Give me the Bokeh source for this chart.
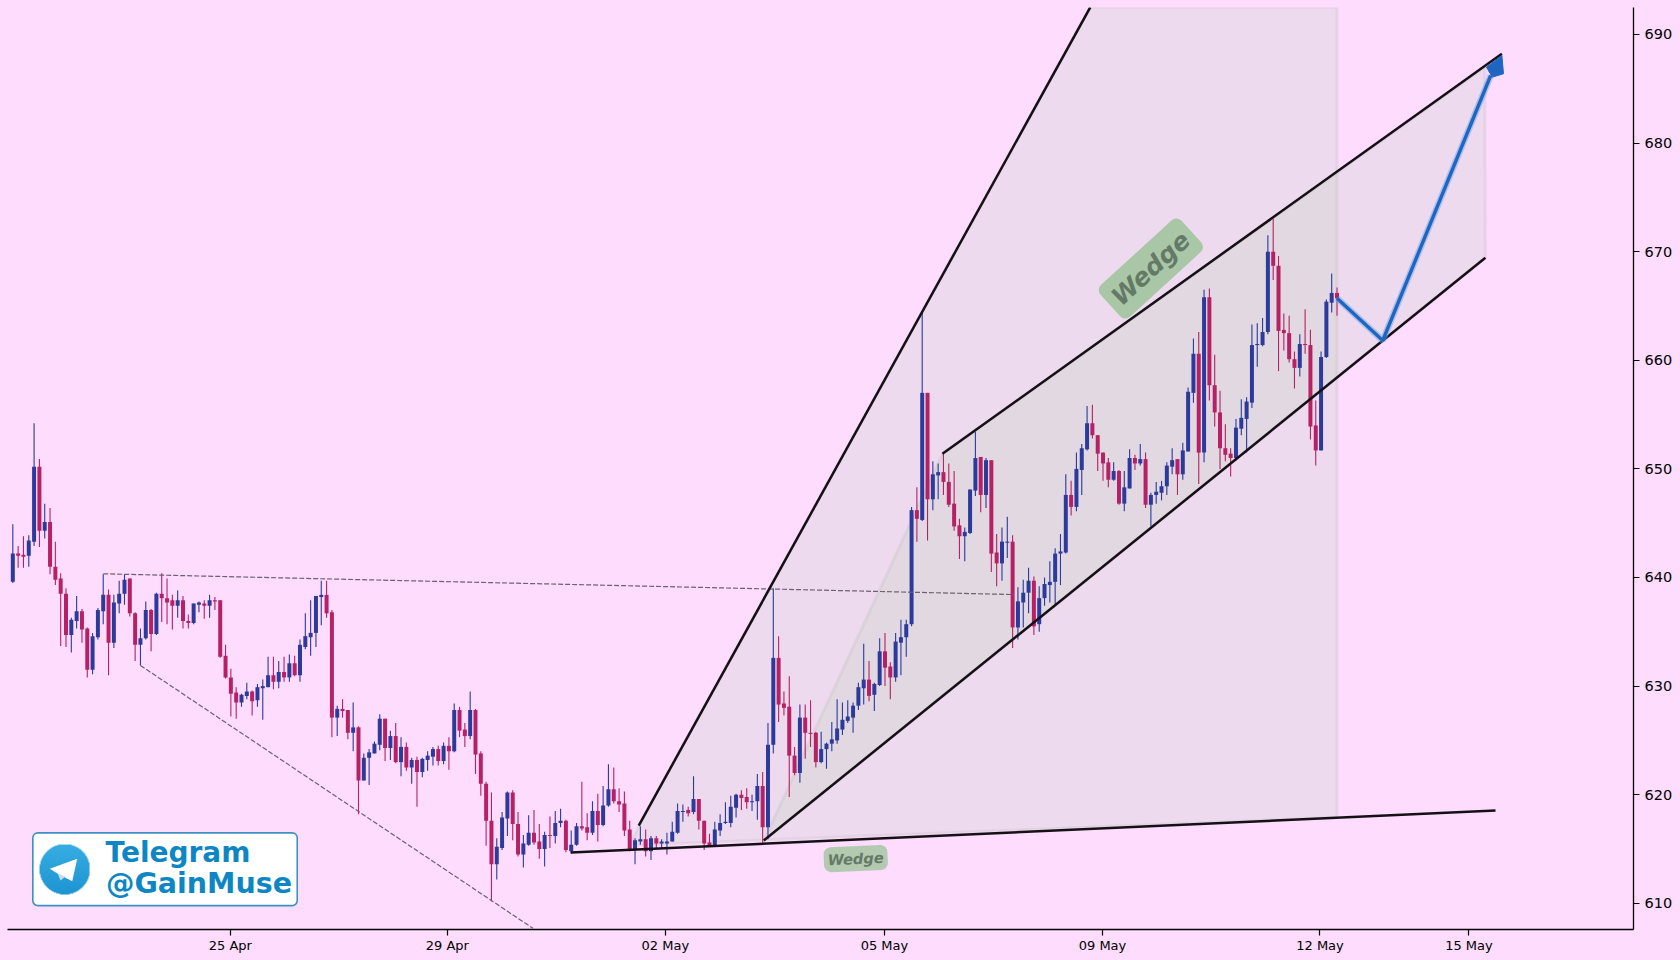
import numpy as np
from bokeh.embed import file_html
from bokeh.models import ColumnDataSource, FixedTicker, GlobalInlineStyleSheet, Label, Range1d
from bokeh.plotting import figure
from bokeh.resources import INLINE

# hourly candles
opens = [
    639.6, 642.2, 642.1, 642.0, 643.3, 650.2, 644.3, 645.1, 641.0, 639.9,
    638.5, 634.7, 636.0, 636.9, 635.3, 631.5, 634.5, 636.9, 638.4, 634.0,
    637.6, 638.5, 639.9, 636.7, 633.8, 634.4, 637.0, 634.8, 638.5, 638.1,
    637.9, 637.4, 637.9, 636.0, 635.8, 637.5, 637.6, 637.4, 637.9, 637.9,
    632.8, 630.8, 629.4, 628.5, 629.1, 629.5, 628.7, 629.8, 629.9, 631.0,
    630.4, 631.3, 630.8, 632.1, 631.0, 633.6, 634.5, 634.9, 638.2, 638.4,
    636.8, 627.1, 627.9, 627.8, 625.7, 626.2, 621.3, 623.4, 623.8, 624.6,
    627.0, 624.3, 625.4, 623.0, 624.4, 622.5, 623.2, 622.1, 623.2, 623.5,
    624.2, 623.1, 624.5, 624.0, 627.8, 626.0, 625.4, 627.8, 623.8, 621.0,
    617.6, 613.6, 615.1, 617.8, 620.2, 617.3, 614.5, 615.4, 616.5, 615.7,
    615.0, 616.3, 616.2, 617.4, 617.6, 614.8, 615.4, 617.1, 617.0, 616.5,
    618.5, 617.2, 619.0, 620.5, 619.4, 619.2, 616.8, 615.0, 615.7, 615.9,
    614.8, 616.0, 615.5, 615.5, 615.7, 616.5, 618.4, 618.6, 618.4, 619.6,
    617.6, 615.6, 615.3, 616.7, 617.4, 617.4, 618.8, 620.0, 619.8, 619.3,
    619.4, 620.8, 617.0, 624.6, 632.6, 628.4, 628.1, 623.6, 622.0, 627.1,
    625.7, 625.7, 623.0, 624.2, 624.7, 625.0, 626.0, 626.8, 627.1, 628.2,
    629.8, 630.6, 629.2, 630.1, 633.2, 631.8, 630.8, 634.0, 634.5, 635.7,
    646.2, 645.3, 657.0, 647.2, 649.4, 649.7, 648.8, 646.8, 644.8, 643.8,
    644.1, 648.0, 651.1, 647.6, 650.8, 642.3, 641.3, 643.2, 643.3, 635.4,
    637.7, 638.6, 639.7, 635.7, 638.1, 639.3, 639.6, 642.2, 642.3, 647.6,
    646.5, 649.9, 651.8, 654.2, 653.1, 651.5, 650.6, 649.0, 649.8, 646.8,
    648.2, 651.0, 650.5, 650.9, 646.7, 647.6, 647.8, 648.4, 650.2, 650.9,
    649.5, 651.6, 657.0, 660.6, 651.5, 665.8, 657.7, 655.2, 651.9, 651.4,
    651.0, 653.7, 654.6, 656.1, 661.4, 661.4, 662.6, 670.0, 668.7, 662.8,
    662.5, 660.1, 659.3, 661.5, 661.4, 654.0, 651.7, 660.3, 665.3, 666.2,
]
closes = [
    642.2, 642.0, 641.9, 643.4, 650.2, 644.3, 645.1, 641.0, 639.8, 638.5,
    634.7, 636.1, 636.9, 635.2, 631.5, 634.6, 637.0, 638.4, 634.0, 637.7,
    638.5, 639.8, 636.7, 633.8, 634.4, 637.0, 634.8, 638.5, 638.1, 637.7,
    637.4, 637.9, 636.0, 635.8, 637.6, 637.7, 637.4, 637.9, 637.8, 632.7,
    630.8, 629.3, 628.5, 629.2, 629.5, 628.6, 629.9, 630.0, 631.0, 630.4,
    631.3, 630.8, 632.1, 631.0, 633.8, 634.6, 634.9, 638.3, 638.4, 636.7,
    627.1, 627.9, 627.7, 625.7, 626.2, 621.3, 623.4, 623.9, 624.7, 627.0,
    624.3, 625.4, 623.0, 624.4, 622.5, 623.2, 622.1, 623.3, 623.6, 624.2,
    623.1, 624.5, 624.0, 627.8, 625.9, 625.4, 627.8, 623.7, 621.0, 617.6,
    613.6, 615.2, 617.9, 620.2, 617.3, 614.5, 615.5, 616.5, 615.6, 615.0,
    616.3, 616.2, 617.4, 617.6, 614.9, 615.4, 617.1, 616.9, 616.5, 618.5,
    617.2, 619.0, 620.5, 619.4, 619.1, 616.7, 614.9, 615.8, 615.9, 614.8,
    616.0, 615.5, 615.7, 615.7, 616.6, 618.5, 618.5, 618.3, 619.6, 617.6,
    615.5, 615.3, 616.8, 617.4, 617.5, 618.9, 620.0, 619.7, 619.3, 619.4,
    620.8, 617.0, 624.6, 632.6, 628.3, 628.0, 623.6, 622.0, 627.1, 625.7,
    625.6, 623.0, 624.2, 624.7, 625.1, 626.1, 626.9, 627.2, 628.2, 629.9,
    630.6, 629.1, 630.2, 633.2, 631.7, 630.8, 634.1, 634.5, 635.7, 646.2,
    645.4, 657.0, 647.2, 649.5, 649.7, 648.8, 646.7, 644.7, 643.8, 644.2,
    648.1, 651.0, 647.6, 650.8, 642.2, 641.3, 643.3, 643.3, 635.4, 637.8,
    638.6, 639.7, 635.5, 638.1, 639.4, 639.6, 642.2, 642.4, 647.6, 646.5,
    650.0, 651.9, 654.2, 653.1, 651.4, 650.5, 649.0, 649.8, 646.8, 648.3,
    651.0, 650.5, 650.9, 646.7, 647.6, 647.9, 648.4, 650.3, 650.8, 649.5,
    651.7, 657.1, 660.6, 651.5, 665.8, 657.7, 655.2, 651.9, 651.3, 651.0,
    653.8, 654.7, 656.2, 661.4, 661.5, 662.6, 670.0, 668.7, 662.7, 662.5,
    660.1, 659.3, 661.5, 661.4, 653.9, 651.7, 660.3, 665.4, 666.2, 665.7,
]
highs = [
    644.9, 642.9, 643.8, 643.9, 654.2, 650.9, 646.8, 646.4, 643.3, 640.4,
    639.0, 636.3, 638.3, 637.1, 635.4, 634.9, 637.2, 640.3, 638.9, 638.4,
    639.7, 640.3, 639.9, 636.8, 635.3, 637.8, 637.1, 638.6, 640.4, 639.9,
    638.4, 638.8, 638.3, 636.6, 637.6, 637.8, 637.9, 638.4, 638.2, 637.9,
    633.8, 631.6, 629.9, 629.3, 630.3, 629.6, 630.2, 630.6, 632.7, 632.7,
    632.3, 632.7, 632.9, 632.8, 634.3, 636.7, 637.9, 638.3, 639.7, 639.7,
    637.0, 628.2, 628.8, 627.8, 628.5, 626.3, 623.8, 624.2, 624.9, 627.4,
    627.0, 625.9, 626.6, 625.3, 624.8, 623.4, 623.5, 623.4, 624.0, 624.4,
    624.5, 624.8, 625.3, 628.4, 628.1, 626.6, 629.5, 627.9, 624.0, 621.2,
    620.2, 616.0, 618.4, 620.3, 620.4, 618.4, 616.3, 618.1, 618.6, 617.3,
    616.6, 618.0, 618.5, 618.7, 617.7, 616.7, 617.4, 621.2, 618.3, 619.4,
    620.1, 620.8, 622.8, 622.5, 620.6, 620.3, 617.6, 616.0, 617.1, 616.8,
    616.2, 616.2, 615.9, 616.5, 617.5, 619.2, 619.1, 618.9, 621.7, 619.6,
    617.6, 616.4, 617.5, 618.2, 619.3, 619.9, 620.1, 620.4, 620.6, 620.0,
    621.9, 622.1, 626.6, 639.0, 634.6, 629.5, 630.9, 624.4, 628.3, 628.3,
    628.7, 625.8, 625.8, 624.8, 626.7, 628.8, 628.5, 628.7, 628.5, 630.3,
    633.9, 632.3, 630.3, 634.4, 634.9, 632.2, 634.9, 636.1, 636.1, 646.5,
    648.3, 664.4, 657.0, 650.7, 650.5, 651.4, 650.5, 649.8, 645.4, 644.6,
    648.1, 653.4, 651.1, 651.0, 650.8, 644.0, 644.6, 645.6, 643.9, 639.1,
    639.8, 640.9, 640.1, 639.2, 640.0, 641.5, 642.7, 644.0, 649.5, 648.9,
    651.5, 652.3, 655.8, 655.9, 653.1, 651.5, 651.0, 650.6, 649.9, 649.8,
    651.8, 651.3, 652.3, 651.5, 647.8, 648.8, 648.9, 650.6, 651.9, 650.9,
    652.4, 657.5, 662.0, 662.6, 666.5, 666.6, 660.5, 657.2, 654.1, 651.9,
    654.6, 656.4, 656.6, 663.3, 663.4, 663.9, 671.5, 673.0, 669.6, 664.3,
    664.1, 660.8, 662.4, 664.7, 662.8, 656.3, 660.8, 665.6, 668.0, 666.7,
]
lows = [
    639.5, 640.9, 640.9, 641.0, 642.9, 642.8, 643.6, 640.3, 639.3, 633.7,
    633.6, 633.1, 635.3, 634.0, 630.8, 631.1, 634.3, 635.7, 631.0, 633.5,
    636.7, 637.5, 636.4, 632.3, 631.9, 634.3, 633.2, 634.7, 635.9, 635.7,
    635.2, 636.3, 635.3, 635.3, 635.7, 636.8, 636.2, 636.3, 637.0, 632.6,
    630.7, 627.2, 627.0, 628.1, 628.8, 627.3, 628.1, 626.9, 629.9, 629.7,
    629.8, 630.4, 630.4, 630.9, 630.4, 633.4, 632.8, 633.6, 635.6, 636.3,
    625.3, 625.4, 627.1, 625.1, 624.0, 618.2, 621.3, 620.9, 623.8, 624.1,
    623.1, 623.2, 622.9, 621.7, 622.2, 621.0, 618.9, 621.6, 622.2, 622.7,
    622.7, 622.8, 622.3, 623.9, 625.3, 624.4, 625.1, 621.9, 619.9, 615.3,
    610.2, 612.2, 614.9, 616.2, 615.8, 614.3, 613.3, 615.3, 615.4, 614.1,
    613.4, 615.1, 615.5, 617.0, 614.7, 614.6, 615.3, 616.7, 615.8, 616.3,
    615.7, 617.1, 618.9, 619.2, 618.4, 616.2, 614.8, 613.6, 615.4, 614.3,
    614.0, 615.1, 615.1, 614.5, 615.7, 616.4, 617.5, 618.0, 618.2, 616.8,
    614.9, 615.2, 615.2, 616.2, 617.3, 617.0, 617.9, 618.6, 618.7, 618.5,
    617.7, 615.4, 615.9, 623.8, 626.7, 627.3, 619.8, 621.8, 621.1, 623.3,
    624.4, 622.5, 622.9, 622.4, 624.0, 624.7, 625.5, 626.6, 625.7, 627.8,
    628.3, 628.6, 627.7, 630.0, 630.0, 628.8, 630.4, 631.0, 632.7, 635.5,
    643.3, 645.2, 643.4, 646.2, 647.2, 647.6, 646.5, 644.3, 641.7, 641.5,
    644.0, 647.5, 646.0, 646.4, 640.5, 639.2, 639.7, 641.8, 633.5, 634.3,
    635.4, 636.7, 634.7, 635.0, 637.4, 637.7, 637.4, 639.3, 642.2, 645.7,
    646.1, 647.6, 651.7, 652.8, 649.8, 648.9, 648.3, 648.9, 646.7, 646.1,
    648.2, 649.9, 650.3, 646.4, 644.7, 646.8, 647.1, 647.6, 649.5, 647.6,
    649.0, 651.6, 656.1, 648.6, 650.6, 656.3, 653.9, 650.0, 650.7, 649.3,
    650.8, 653.1, 651.5, 655.6, 659.4, 661.3, 662.4, 667.4, 659.0, 660.9,
    659.8, 657.4, 658.5, 660.6, 652.7, 650.3, 651.7, 660.2, 664.4, 664.1,
]

y_ticks = [610, 620, 630, 640, 650, 660, 670, 680, 690]
date_ticks = [40.9, 81.7, 122.7, 163.9, 204.9, 245.8, 273.8]
date_labels = ["25 Apr", "29 Apr", "02 May", "05 May", "09 May", "12 May", "15 May"]

# drawn trend lines, x in candle numbers, y in price
steep_x, steep_y = [117.7, 202.6], [617.16, 692.5]
base_x, base_y = [104.9, 278.8], [614.68, 618.54]
chan_low_x, chan_low_y = [141.2, 276.9], [615.78, 669.44]
chan_up_x, chan_up_y = [174.8, 280.0], [651.39, 688.22]
dash_top_x, dash_top_y = [17.0, 188.2], [640.34, 638.43]
dash_low_x, dash_low_y = [24.0, 97.8], [631.9, 607.7]

# shaded wedges
wedge_x = [116.2, 117.7, 202.6, 249.0, 249.0]
wedge_y = [615.35, 617.16, 692.5, 692.5, 617.9]
chan_x = [141.2, 174.8, 276.8, 276.9]
chan_y = [615.78, 651.39, 687.0, 669.44]

# forecast arrow
path_x, path_y = [249.0, 257.6, 277.9], [665.72, 661.82, 686.22]
head_x = [277.1, 280.0, 280.3, 278.2]
head_y = [686.99, 688.07, 686.38, 686.07]

BG = "#fddcfd"
BLUE = "#2b3a9b"
RED = "#b62064"

p = figure(width=1680, height=960, frame_width=1626, frame_height=922,
           x_range=Range1d(-1.0, 304.75), y_range=Range1d(607.59, 692.48),
           y_axis_location="right", toolbar_location=None, output_backend="svg",
           background_fill_color=BG, border_fill_color=BG, outline_line_color=None,
           min_border_left=7, min_border_top=7, min_border_right=0, min_border_bottom=0)
p.stylesheets = [GlobalInlineStyleSheet(css="html, body {background: %s; overflow: hidden;}" % BG)]
p.grid.visible = False

p.yaxis.ticker = FixedTicker(ticks=y_ticks)
p.xaxis.ticker = FixedTicker(ticks=date_ticks)
p.xaxis.major_label_overrides = dict(zip(date_ticks, date_labels))
for ax in [p.xaxis[0], p.yaxis[0]]:
    ax.minor_tick_line_color = None
    ax.axis_line_color = "black"
    ax.axis_line_width = 1.3
    ax.major_tick_line_color = "black"
    ax.major_tick_line_width = 1.2
    ax.major_tick_in = 0
    ax.major_tick_out = 6
    ax.major_label_text_color = "black"
    ax.major_label_text_font = "DejaVu Sans"
    ax.major_label_standoff = 5
p.xaxis.major_label_standoff = 2
p.yaxis.major_label_text_font_size = "14.5px"
p.xaxis.major_label_text_font_size = "13px"

WEDGE_FILL = "#80cc80"
p.patch(wedge_x, wedge_y, fill_color=WEDGE_FILL, fill_alpha=0.12, line_color="#bdbdbd", line_alpha=0.25, line_width=3)
p.patch(chan_x, chan_y, fill_color=WEDGE_FILL, fill_alpha=0.12, line_color="#bdbdbd", line_alpha=0.25, line_width=3)

idx = np.arange(len(opens))
src = ColumnDataSource(dict(
    x=idx, high=highs, low=lows,
    top=np.maximum(opens, closes), bottom=np.minimum(opens, closes),
    color=[BLUE if c >= o else RED for o, c in zip(opens, closes)],
))
p.segment("x", "high", "x", "low", source=src, line_color="color", line_width=1.1)
p.vbar("x", 0.75, "top", "bottom", source=src, fill_color="color", line_color=None)

for xs, ys in [(dash_top_x, dash_top_y), (dash_low_x, dash_low_y)]:
    p.line(xs, ys, line_color="#6d6170", line_width=1.2, line_dash="5 2")
for xs, ys in [(steep_x, steep_y), (base_x, base_y), (chan_low_x, chan_low_y), (chan_up_x, chan_up_y)]:
    p.line(xs, ys, line_color="#151015", line_width=2.5)

p.line(path_x, path_y, line_color="#6fa8e8", line_width=6.5, line_alpha=0.5)
p.line(path_x, path_y, line_color="#1f66c2", line_width=3.4)
p.patch(head_x, head_y, fill_color="#1f66c2", line_color="#1f66c2", line_width=1)


def label(text, x, y, size, angle=0.0, bg=None, pad=0, align="center", color="#647a66"):
    p.add_layout(Label(x=x, y=y, text=text, text_font="DejaVu Sans", text_font_size=size,
                       text_font_style="bold italic" if bg else "bold", text_color=color,
                       text_align=align, text_baseline="middle" if bg else "alphabetic",
                       angle=angle, background_fill_color=bg, padding=pad, border_radius=7))


label("Wedge", 214.0, 668.45, "25px", angle=0.74, bg="#a9c7a6", pad=7)
label("Wedge", 158.5, 614.12, "14.6px", angle=0.045, bg="#b3c9b0", pad=4)

# telegram badge in data units
box_l, box_r, box_t, box_b = 3.76, 53.48, 616.49, 609.79
p.quad(left=[box_l], right=[box_r], top=[box_t], bottom=[box_b], fill_color="white",
       line_color="#3c91c4", line_width=1.6, border_radius=5)

n = 100
yy, xx = np.mgrid[0:n, 0:n]
dist = np.hypot(xx - 49.5, yy - 49.5)
mix = yy / (n - 1)
rgba = np.zeros((n, n), dtype=np.uint32)
view = rgba.view(np.uint8).reshape((n, n, 4))
view[..., 0] = (30 + 25 * mix).astype(np.uint8)
view[..., 1] = (148 + 26 * mix).astype(np.uint8)
view[..., 2] = (210 + 16 * mix).astype(np.uint8)
view[..., 3] = (np.clip(50 - dist, 0, 1) * 255).astype(np.uint8)
p.image_rgba(image=[rgba], x=[5.02], y=[610.81], dw=[9.4], dh=[4.6])

p.patch([6.96, 12.11, 11.17, 8.46], [613.18, 614.1, 612.03, 612.72], fill_color="white", line_color=None)
p.patch([8.46, 8.97, 9.91], [612.72, 612.1, 612.47], fill_color="#c9dcec", line_color=None)

label("Telegram", 17.43, 614.65, "28px", align="left", color="#0e86c4")
label("@GainMuse", 17.5, 611.82, "28.5px", align="left", color="#0e86c4")

open("out.html", "w").write(file_html(p, INLINE))
